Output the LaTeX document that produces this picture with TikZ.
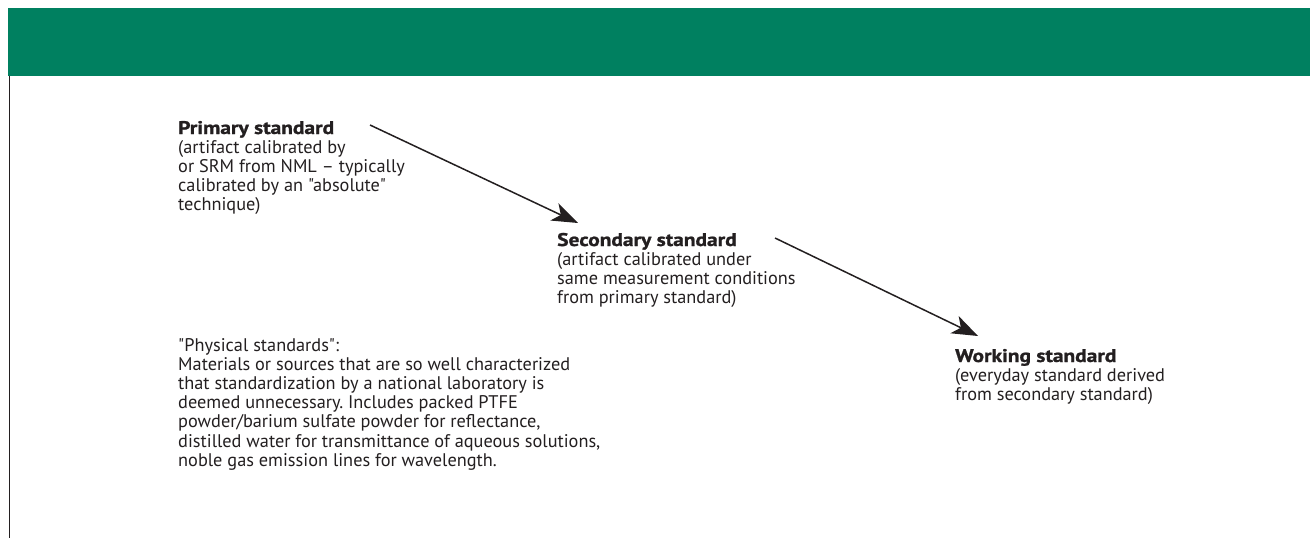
\documentclass[tikz,border=0pt]{standalone}
\usepackage{fontspec}
\setmainfont{PT Sans}[Ligatures=TeXOff]
\newfontfamily\heavyfont{PT Sans}[Ligatures=TeXOff,FakeStretch=1.17,FakeBold=1.2]
\usetikzlibrary{arrows.meta}
\definecolor{band}{RGB}{0,128,96}
\definecolor{ink}{RGB}{35,31,32}
\frenchspacing
\begin{document}
\begin{tikzpicture}[x=1pt,y=-1pt,
  every node/.style={inner sep=0pt, text=ink, font=\fontsize{18.3}{19.2}\selectfont},
  title/.style={font=\fontsize{18.3}{19.2}\selectfont\heavyfont\bfseries, anchor=base west},
  body/.style={align=left, anchor=base west},
  arr/.style={draw=ink, line width=1.5pt, -{Stealth[length=26pt,width=19pt,inset=7pt]}}]
\useasboundingbox (0,0) rectangle (1310,538);
\fill[band] (8,8) rectangle (1310,76);
\draw[ink, line width=1.5pt] (9.5,76) -- (9.5,538);
% base anchor of a multi-line node is the baseline of its last line
\node[title] (pt) at (178,134) {Primary standard};
\node[body] (pb) at (178,210.8) {(artifact calibrated by\\or SRM from NML – typically\\calibrated by an "absolute"\\technique)};
\node[title] (st) at (557,246) {Secondary standard};
\node[body] (sb) at (557,303.6) {(artifact calibrated under\\same measurement conditions\\from primary standard)};
\node[body] (ph) at (178,466.2) {"Physical standards":\\Materials or sources that are so well characterized\\that standardization by a national laboratory is\\deemed unnecessary. Includes packed PTFE\\powder/barium sulfate powder for reflectance,\\distilled water for transmittance of aqueous solutions,\\noble gas emission lines for wavelength.};
\node[title] (wt) at (955,362) {Working standard};
\node[body] (wb) at (955,400.4) {(everyday standard derived\\from secondary standard)};
\coordinate (a1s) at (370,125);
\coordinate (a1e) at (578,223);
\coordinate (a2s) at (775,238);
\coordinate (a2e) at (978,336);
\draw[arr] (a1s) -- (a1e);
\draw[arr] (a2s) -- (a2e);
\end{tikzpicture}
\end{document}
